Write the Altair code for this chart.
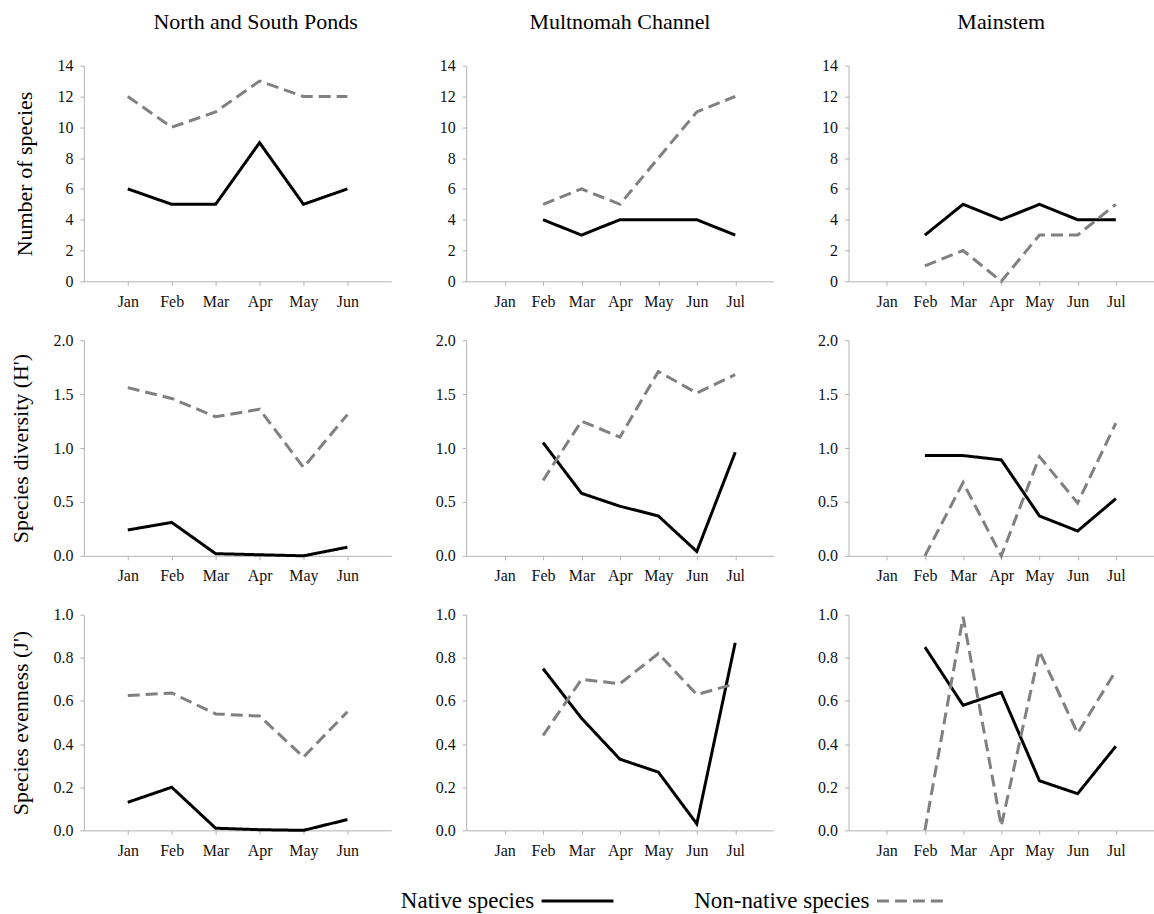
import altair as alt
import pandas as pd

# ---------------- data ----------------
sites = ["North and South Ponds", "Multnomah Channel", "Mainstem"]
metrics = ["Number of species", "Species diversity (H')", "Species evenness (J')"]
types = ["Native species", "Non-native species"]

axis_months_nsp = ["Jan", "Feb", "Mar", "Apr", "May", "Jun"]
axis_months_all = ["Jan", "Feb", "Mar", "Apr", "May", "Jun", "Jul"]

months_nsp = ["Jan", "Feb", "Mar", "Apr", "May", "Jun"]
months_mc = ["Feb", "Mar", "Apr", "May", "Jun", "Jul"]
months_ms = ["Feb", "Mar", "Apr", "May", "Jun", "Jul"]

# Number of species
nsp_num_native = [6, 5, 5, 9, 5, 6]
nsp_num_non = [12, 10, 11, 13, 12, 12]
mc_num_native = [4, 3, 4, 4, 4, 3]
mc_num_non = [5, 6, 5, 8, 11, 12]
ms_num_native = [3, 5, 4, 5, 4, 4]
ms_num_non = [1, 2, 0, 3, 3, 5]

# Species diversity (H')
nsp_h_native = [0.24, 0.31, 0.02, 0.01, 0.0, 0.08]
nsp_h_non = [1.56, 1.46, 1.29, 1.36, 0.82, 1.31]
mc_h_native = [1.05, 0.58, 0.46, 0.37, 0.04, 0.96]
mc_h_non = [0.70, 1.25, 1.10, 1.71, 1.51, 1.68]
ms_h_native = [0.93, 0.93, 0.89, 0.37, 0.23, 0.53]
ms_h_non = [0.0, 0.68, 0.0, 0.92, 0.49, 1.23]

# Species evenness (J')
nsp_j_native = [0.13, 0.20, 0.01, 0.003, 0.0, 0.05]
nsp_j_non = [0.625, 0.637, 0.54, 0.53, 0.34, 0.55]
mc_j_native = [0.75, 0.52, 0.33, 0.27, 0.03, 0.87]
mc_j_non = [0.44, 0.70, 0.68, 0.82, 0.63, 0.68]
ms_j_native = [0.85, 0.58, 0.64, 0.23, 0.17, 0.39]
ms_j_non = [0.0, 0.99, 0.02, 0.83, 0.45, 0.74]

y_ticks_num = [0, 2, 4, 6, 8, 10, 12, 14]
y_ticks_h = [0.0, 0.5, 1.0, 1.5, 2.0]
y_ticks_j = [0.0, 0.2, 0.4, 0.6, 0.8, 1.0]

# ---------------- table ----------------
series = {
    (0, 0): (months_nsp, nsp_num_native, nsp_num_non),
    (1, 0): (months_mc, mc_num_native, mc_num_non),
    (2, 0): (months_ms, ms_num_native, ms_num_non),
    (0, 1): (months_nsp, nsp_h_native, nsp_h_non),
    (1, 1): (months_mc, mc_h_native, mc_h_non),
    (2, 1): (months_ms, ms_h_native, ms_h_non),
    (0, 2): (months_nsp, nsp_j_native, nsp_j_non),
    (1, 2): (months_mc, mc_j_native, mc_j_non),
    (2, 2): (months_ms, ms_j_native, ms_j_non),
}

rows = []
for (si, mi), (mons, nat, non) in series.items():
    for m, v in zip(mons, nat):
        rows.append({"site": sites[si], "metric": metrics[mi], "type": types[0], "month": m, "value": v})
    for m, v in zip(mons, non):
        rows.append({"site": sites[si], "metric": metrics[mi], "type": types[1], "month": m, "value": v})
df = pd.DataFrame(rows)

FONT = "Liberation Serif"
AXIS_GRAY = "#b3b3b3"
widths = [308, 308, 306]
HEIGHT = 216
title_dx = [18, 0, 0]

y_cfg = [
    (y_ticks_num, [0, 14], "d"),
    (y_ticks_h, [0, 2], ".1f"),
    (y_ticks_j, [0, 1], ".1f"),
]

legend = alt.Legend(
    title=None,
    orient="none",
    legendX=457,
    legendY=799,
    direction="horizontal",
    columns=2,
    columnPadding=74,
    symbolType="stroke",
    symbolSize=5184,
    symbolStrokeWidth=3,
    labelFont=FONT,
    labelFontSize=23,
    labelColor="black",
    labelAlign="right",
    labelOffset={"expr": "-81"},
    labelLimit=400,
)

charts = []
for mi, metric in enumerate(metrics):
    ticks, dom, fmt = y_cfg[mi]
    for si, site in enumerate(sites):
        months_axis = axis_months_nsp if si == 0 else axis_months_all
        sub = df[(df.site == site) & (df.metric == metric)]
        props = dict(width=widths[si], height=HEIGHT)
        if mi == 0:
            props["title"] = alt.TitleParams(
                site, font=FONT, fontSize=22, fontWeight="normal", color="black",
                offset=24, frame="group", anchor="middle", dx=title_dx[si],
            )
        c = alt.Chart(sub).mark_line(strokeWidth=3, strokeCap="butt").encode(
            x=alt.X(
                "month:O",
                scale=alt.Scale(type="point", domain=months_axis, padding=1),
                axis=alt.Axis(title=None, labelAngle=0, labelPadding=8),
            ),
            y=alt.Y(
                "value:Q",
                scale=alt.Scale(domain=dom, nice=False, zero=True),
                axis=alt.Axis(
                    values=ticks, format=fmt, labelPadding=7,
                    title=metric if si == 0 else None,
                ),
            ),
            color=alt.Color(
                "type:N",
                scale=alt.Scale(domain=types, range=["#000000", "#808080"]),
                legend=legend,
            ),
            strokeDash=alt.StrokeDash(
                "type:N",
                scale=alt.Scale(domain=types, range=[[1, 0], [12, 6]]),
                legend=legend,
            ),
            order=alt.Order("month_idx:Q"),
        ).transform_calculate(
            month_idx="indexof(" + str(months_axis) + ", datum.month)"
        ).properties(**props)
        charts.append(c)

chart = alt.concat(*charts, columns=3, spacing={"row": 23, "column": 44}).properties(
    padding={"left": 10, "top": 10, "right": 0, "bottom": 0}
).configure_view(stroke=None).configure_axis(
    grid=False,
    domainColor=AXIS_GRAY,
    tickColor=AXIS_GRAY,
    tickSize=4,
    labelFont=FONT,
    labelFontSize=16,
    labelColor="#111111",
    titleFont=FONT,
    titleFontSize=22,
    titleFontWeight="normal",
    titleColor="black",
    titlePadding=20,
)

chart.save("out.html", embed_options={"renderer": "svg", "actions": False})
